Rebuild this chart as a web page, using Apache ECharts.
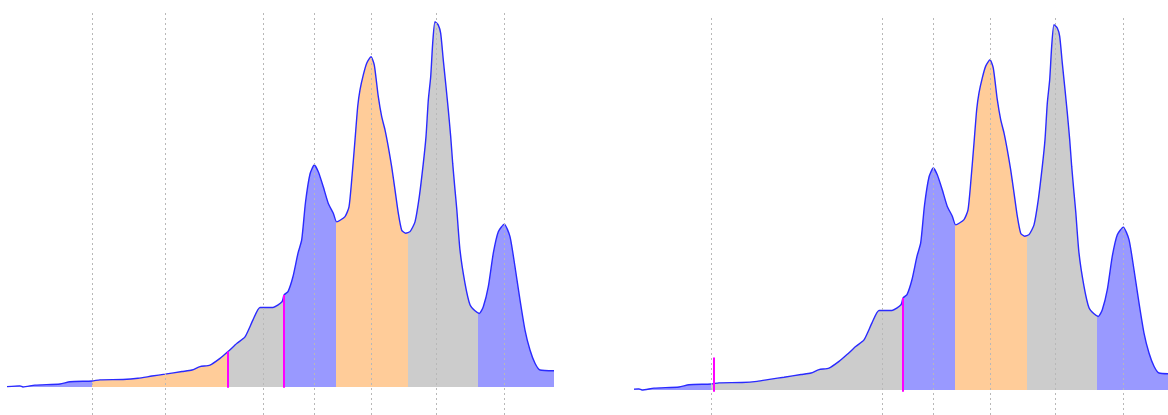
<!DOCTYPE html>
<html><head><meta charset="utf-8">
<script src="https://cdn.jsdelivr.net/npm/echarts@6/dist/echarts.min.js"></script>
<style>html,body{margin:0;padding:0;background:#fff;overflow:hidden}#c{width:1168px;height:415px}</style>
</head><body><div id="c"></div>
<script>
// Density curve (x position, relative height)
const curveX = [0,13,16,28,53,63,85,93,116,131,145,158,175,185,193,203,213,221,230,238,246,253,266,275,277,281,286,291,
  294.7,298.5,303,307.3,311.3,316.3,321.3,326.3,329.7,338,342,344.7,348,350.7,353,356.3,359.7,364,367.3,371.3,374.7,378,381.3,384.7,388,391.3,394.7,398.7,403,408,412.3,416.3,419,421.3,423.7,425.7,
  428,431.3,433.7,436.3,439,441.3,443.7,445.7,448,449.7,453,458,463,468,472.3,476.3,481.3,486.3,491.3,497.3,503,508,513,518,523,528,533,547];
const curveY = [0.1,0.3,0.0,0.5,0.8,1.4,1.6,1.9,2.0,2.3,2.9,3.4,4.1,4.5,5.4,5.8,7.6,9.4,11.6,13.3,17.8,21.1,21.1,22.6,24.4,25.3,29.3,35.5,
  39.0,49.0,56.5,58.9,57.1,53.1,48.7,46.1,43.8,45.2,47.8,54.9,65.5,74.4,78.8,82.8,85.9,87.6,85.4,77.0,71.7,68.2,63.7,58.4,52.3,46.1,41.6,40.8,41.2,43.8,50.5,59.3,66.4,76.1,82.3,91.2,
  96.9,96.0,93.8,86.7,79.7,73.5,66.4,59.3,52.3,47.4,36.3,27.5,21.8,20.2,19.5,21.3,26.6,35.5,41.2,43.2,39.9,31.9,23.1,15.1,9.8,6.3,4.5,4.3];

// Reference gridline positions
const gridLinesLeft = [85,158,256,307,364,429,497];
const gridLinesRight = [85,256,307,364,429,497];

// Colour bands along x
const bandEdgesLeft = [85,221,277,328.7,400.7,471.3];
const bandColorsLeft = ['blue','orange','gray','blue','orange','gray','blue'];
const bandEdgesRight = [85,277,328.7,400.7,471.3];
const bandColorsRight = ['blue','gray','blue','orange','gray','blue'];

// Magenta markers: x, bottom, top
const markersLeftX = [221,277];
const markersLeftBottom = [-0.2,-0.2];
const markersLeftTop = [9.4,24.4];
const markersRightX = [88,277];
const markersRightBottom = [-0.45,-0.45];
const markersRightTop = [8.6,24.4];

const palette = {blue:'#9999ff', orange:'#ffcc99', gray:'#cccccc'};

const curve = curveX.map((x,i)=>[x,curveY[i]]);

function pieces(edges, colors){
  const p = [];
  for(let i=0;i<colors.length;i++){
    const piece = {color: palette[colors[i]]};
    if(i>0) piece.gte = edges[i-1];
    if(i<edges.length) piece.lt = edges[i];
    p.push(piece);
  }
  return p;
}
function markerData(xs,b,t){ return xs.map((x,i)=>[x,b[i],t[i]]); }

const chart = echarts.init(document.getElementById('c'), null, {renderer:'canvas'});

function areaSeries(idx, gl){
  return {
    type:'line', xAxisIndex:idx, yAxisIndex:idx, data:curve, showSymbol:false, smooth:0.2,
    lineStyle:{color:'#2a2aff', width:1.4},
    areaStyle:{opacity:1},
    silent:true, animation:false,
    markLine:{silent:true, symbol:['none','none'], label:{show:false},
      lineStyle:{color:'#b8b8b8', type:[2,3], width:1},
      data: gl.map(v=>({xAxis:v}))}
  };
}
function markerSeries(idx, data){
  return {
    type:'custom', xAxisIndex:idx, yAxisIndex:idx, data:data, silent:true, animation:false, z:5,
    renderItem:function(params, api){
      const p1 = api.coord([api.value(0), api.value(1)]);
      const p2 = api.coord([api.value(0), api.value(2)]);
      return {type:'line', shape:{x1:p1[0],y1:p1[1],x2:p2[0],y2:p2[1]}, style:{stroke:'#ff00ff', lineWidth:2}};
    }
  };
}

const hiddenAxis = {show:false, splitLine:{show:false}};
chart.setOption({
  animation:false,
  grid:[
    {left:7, width:547, top:10, bottom:0},
    {left:635, width:533, top:16, bottom:0}
  ],
  xAxis:[
    Object.assign({type:'value', gridIndex:0, min:0, max:547}, hiddenAxis),
    Object.assign({type:'value', gridIndex:1, min:9, max:542}, hiddenAxis)
  ],
  yAxis:[
    Object.assign({type:'value', gridIndex:0, min:-7.43, max:100}, hiddenAxis),
    Object.assign({type:'value', gridIndex:1, min:-6.63, max:99.2}, hiddenAxis)
  ],
  visualMap:[
    {type:'piecewise', show:false, dimension:0, seriesIndex:0, pieces:pieces(bandEdgesLeft,bandColorsLeft)},
    {type:'piecewise', show:false, dimension:0, seriesIndex:1, pieces:pieces(bandEdgesRight,bandColorsRight)}
  ],
  series:[
    areaSeries(0, gridLinesLeft),
    areaSeries(1, gridLinesRight),
    markerSeries(0, markerData(markersLeftX,markersLeftBottom,markersLeftTop)),
    markerSeries(1, markerData(markersRightX,markersRightBottom,markersRightTop))
  ]
});
</script></body></html>
